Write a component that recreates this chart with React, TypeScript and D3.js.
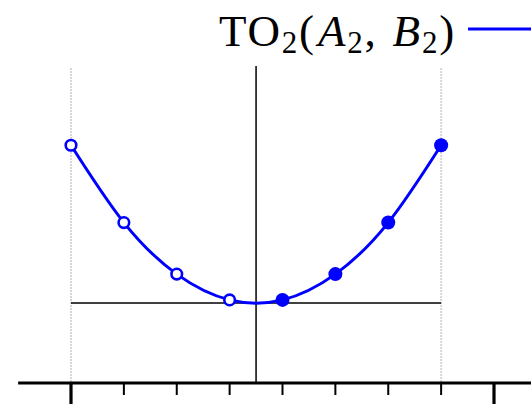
import React from "react";
import * as d3 from "d3";

// Sample positions along the horizontal axis and the value at each one
const positions = [0, 1, 2, 3, 4, 5, 6, 7];
const values = [12.25, 6.25, 2.25, 0.25, 0.25, 2.25, 6.25, 12.25];
// Which samples are drawn as filled markers
const filled = [false, false, false, false, true, true, true, true];
const majorTicks = [0, 8];
const minorTicks = [1, 2, 3, 4, 5, 6, 7];
const guideLines = [0, 7];
const centre = 3.5;

const W = 531;
const H = 404;
const BLUE = "#0000ff";

export default function App() {
  const x = d3.scaleLinear().domain([0, 8]).range([71, 494]);
  const y = d3.scaleLinear().domain([-6.2, 18.4]).range([383, 66]);

  const pts = positions.map((p, i) => [p, values[i]] as [number, number]);
  const line = d3
    .line<[number, number]>()
    .x((d) => x(d[0]))
    .y((d) => y(d[1]))
    .curve(d3.curveNatural);

  const axisY = y(-6.2);

  return (
    <div style={{ position: "fixed", left: 0, top: 0 }}>
      <svg width={W} height={H} style={{ display: "block" }}>
        <rect width={W} height={H} fill="#fff" />
        {/* dotted guides at the ends of the sampled range */}
        {guideLines.map((g) => (
          <line
            key={g}
            x1={x(g)}
            x2={x(g)}
            y1={y(18.2)}
            y2={axisY}
            stroke="#b0b0b0"
            strokeWidth={2}
            strokeDasharray="1 2"
          />
        ))}
        {/* zero line and centre line */}
        <line x1={x(0)} x2={x(7)} y1={y(0)} y2={y(0)} stroke="#000" strokeWidth={1.5} />
        <line x1={x(centre)} x2={x(centre)} y1={y(18.4)} y2={axisY} stroke="#000" strokeWidth={1.5} />
        {/* horizontal axis */}
        <line x1={x(-1)} x2={W} y1={axisY} y2={axisY} stroke="#000" strokeWidth={3} />
        {minorTicks.map((t) => (
          <line key={t} x1={x(t)} x2={x(t)} y1={axisY} y2={axisY + 12} stroke="#000" strokeWidth={2} />
        ))}
        {majorTicks.map((t) => (
          <line key={t} x1={x(t)} x2={x(t)} y1={axisY} y2={H} stroke="#000" strokeWidth={3.2} />
        ))}
        {/* curve and markers */}
        <path d={line(pts) ?? ""} fill="none" stroke={BLUE} strokeWidth={3} />
        {pts.map((d, i) =>
          filled[i] ? (
            <circle key={i} cx={x(d[0])} cy={y(d[1])} r={7} fill={BLUE} />
          ) : (
            <circle key={i} cx={x(d[0])} cy={y(d[1])} r={5.3} fill="#fff" stroke={BLUE} strokeWidth={2.6} />
          )
        )}
        {/* legend */}
        <text
          x={456}
          y={46}
          textAnchor="end"
          fontFamily="'Liberation Serif', serif"
          fontSize={45}
          letterSpacing={1.8}
          fill="#000"
        >
          <tspan>TO</tspan>
          <tspan fontSize={31} dy={7}>2</tspan>
          <tspan dy={-7}>(</tspan>
          <tspan fontStyle="italic" dx={2}>A</tspan>
          <tspan fontSize={31} dy={7}>2</tspan>
          <tspan dy={-7}>, </tspan>
          <tspan fontStyle="italic" dx={2}>B</tspan>
          <tspan fontSize={31} dy={7}>2</tspan>
          <tspan dy={-7}>)</tspan>
        </text>
        <line x1={468} x2={W} y1={29} y2={29} stroke={BLUE} strokeWidth={3} />
      </svg>
    </div>
  );
}
